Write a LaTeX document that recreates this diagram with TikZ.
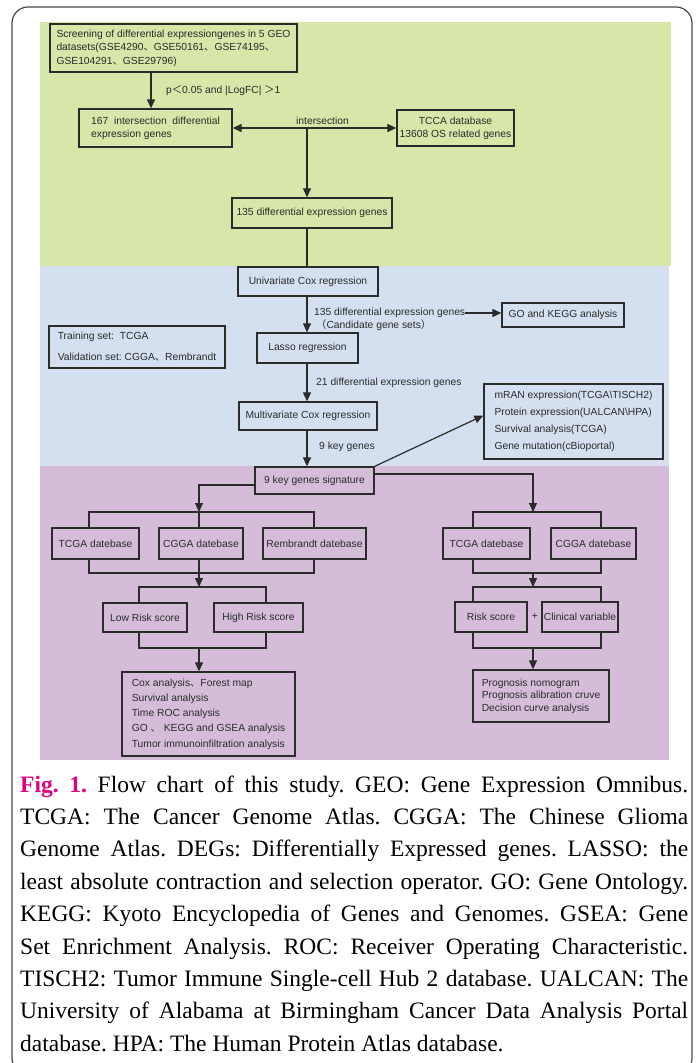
\documentclass[tikz,border=0pt]{standalone}
\usepackage{fontspec}
\setmainfont{Liberation Serif}
\newfontfamily\boxfont{Liberation Sans}
\newfontfamily\cjk{Noto Sans CJK SC}
\usetikzlibrary{arrows.meta}
\definecolor{pgreen}{HTML}{D7E6A9}
\definecolor{pblue}{HTML}{D4E0F0}
\definecolor{ppurple}{HTML}{D5BDDA}
\definecolor{figpink}{HTML}{E5007E}
\definecolor{ink}{HTML}{2B2B2B}
\definecolor{framec}{HTML}{4A4A4A}
\frenchspacing
\begin{document}
\begin{tikzpicture}[x=1pt,y=-1pt,
  bs/.style={font=\boxfont\fontsize{10.3}{#1}\selectfont},
  box/.style={draw=ink, line width=1.3pt, inner sep=0pt, text=ink, bs=13},
  lab/.style={inner sep=0pt, text=ink, bs=12},
  conn/.style={draw=ink, line width=1.2pt},
  arr/.style={conn, -{Triangle[length=9pt,width=8pt]}},
  darr/.style={conn, {Triangle[length=9pt,width=8pt]}-{Triangle[length=9pt,width=8pt]}},
  capline/.style={inner sep=0pt, anchor=base west, text=black, font=\fontsize{23.5}{28}\selectfont}
]
\useasboundingbox (0,0) rectangle (697,1063);
\fill[white] (0,0) rectangle (697,1063);
% frame
\begin{scope}
\clip (0,0) rectangle (697,1063);
\draw[framec, line width=1.2pt, rounded corners=16pt] (12,7) rectangle (692,1074);
\end{scope}
% panels
\fill[pgreen] (40,22) rectangle (671,266);
\fill[pblue] (40,266) rectangle (669,466);
\fill[ppurple] (40,466) rectangle (669,760);

% ---------- green panel ----------
\node[box, minimum width=247pt, minimum height=48pt, align=left, bs=13.5] (scr) at (173.5,48)
  {Screening of differential expressiongenes in 5 GEO\\datasets(GSE4290{\cjk 、}GSE50161{\cjk 、}GSE74195{\cjk 、}\\GSE104291{\cjk 、}GSE29796)};
\node[box, minimum width=153pt, minimum height=38pt, align=left] (b167) at (155.5,128)
  {167\ \ intersection\ \ differential\\expression genes};
\node[box, minimum width=117pt, minimum height=36pt, align=center] (tcca) at (455.5,128)
  {TCCA database\\13608 OS related genes};
\node[box, minimum width=160pt, minimum height=30pt] (b135) at (312,213) {135 differential expression genes};

\coordinate (a1) at (151,72);
\draw[arr] (a1) -- (a1 |- b167.north);
\node[lab, anchor=west] (lp) at (166,91) {p{\cjk ＜}0.05 and |LogFC| {\cjk ＞}1};
\draw[darr] (b167.east) -- (tcca.west);
\node[lab] (lint) at (322.5,121) {intersection};
\coordinate (iM) at (307,128);
\draw[arr] (iM) -- (iM |- b135.north);

% ---------- blue panel ----------
\coordinate (spine) at (307,0);
\node[box, minimum width=140pt, minimum height=29pt] (uni) at (308,281.5) {Univariate Cox regression};
\node[box, minimum width=101pt, minimum height=30pt] (lasso) at (307.5,348) {Lasso regression};
\node[box, minimum width=122pt, minimum height=24pt] (go) at (563,315) {GO and KEGG analysis};
\node[box, minimum width=176pt, minimum height=42pt, align=left, bs=21] (train) at (137,347)
  {Training set:\ \ TCGA\\Validation set: CGGA{\cjk 、}Rembrandt};
\node[box, minimum width=138pt, minimum height=28pt] (multi) at (308,416) {Multivariate Cox regression};
\node[box, minimum width=179pt, minimum height=75pt, align=left, bs=16.8] (mran) at (573.5,421.5)
  {mRAN expression(TCGA\textbackslash TISCH2)\\Protein expression(UALCAN\textbackslash HPA)\\Survival analysis(TCGA)\\Gene mutation(cBioportal)};

\draw[conn] (spine |- b135.south) -- (spine |- uni.north);
\draw[arr] (spine |- uni.south) -- (spine |- lasso.north);
\node[lab, anchor=west] (l135) at (314,313) {135 differential expression genes};
\node[lab, anchor=west] (lcand) at (316,325.5) {{\cjk （}Candidate gene sets{\cjk ）}};
\draw[arr] (l135.east) -- (l135.east -| go.west);
\draw[arr] (spine |- lasso.south) -- (spine |- multi.north);
\node[lab, anchor=west] (l21) at (316,383) {21 differential expression genes};

% ---------- purple panel ----------
\node[box, minimum width=119pt, minimum height=27pt] (sig) at (314.5,480.5) {9 key genes signature};
\draw[arr] (spine |- multi.south) -- (spine |- sig.north);
\node[lab, anchor=west] (l9) at (319,447) {9 key genes};
\draw[arr] (sig.north east) -- ([yshift=6pt]mran.west);

\node[box, minimum width=87pt, minimum height=31pt] (tcgaL) at (95.5,543.5) {TCGA datebase};
\node[box, minimum width=84pt, minimum height=31pt] (cggaL) at (201,543.5) {CGGA datebase};
\node[box, minimum width=103pt, minimum height=31pt] (remb) at (314.5,543.5) {Rembrandt datebase};
\node[box, minimum width=84pt, minimum height=29pt] (low) at (145,617.5) {Low Risk score};
\node[box, minimum width=89pt, minimum height=29pt] (high) at (258.5,617.5) {High Risk score};
\node[box, minimum width=173pt, minimum height=84pt, align=left, bs=15.2] (cox) at (208.5,714)
  {Cox analysis{\cjk 、}Forest map\\Survival analysis\\Time ROC analysis\\GO {\cjk 、} KEGG and GSEA analysis\\Tumor immunoinfiltration analysis};

\node[box, minimum width=87pt, minimum height=31pt] (tcgaR) at (486.5,543.5) {TCGA datebase};
\node[box, minimum width=85pt, minimum height=31pt] (cggaR) at (593.5,543.5) {CGGA datebase};
\node[box, minimum width=72pt, minimum height=30pt] (risk) at (491,617) {Risk score};
\node[box, minimum width=76pt, minimum height=30pt] (clin) at (580,617) {Clinical variable};
\node[lab] (plus) at (535,617) {+};
\node[box, minimum width=136pt, minimum height=52pt, align=left, bs=12.6] (prog) at (541,696)
  {Prognosis nomogram\\Prognosis alibration cruve\\Decision curve analysis};

% left branch
\coordinate (jL) at (199,512);
\coordinate (kL) at (199,573);
\coordinate (mL) at (199,587);
\coordinate (nL) at (199,648);
\coordinate (xL1) at (89,0);
\coordinate (xL3) at (314,0);
\coordinate (xL4) at (139,0);
\coordinate (xL5) at (266,0);
\draw[arr] ([yshift=-4.5pt]sig.west) -| (jL);
\draw[conn] (xL1 |- tcgaL.north) -- (xL1 |- jL) -- (xL3 |- jL) -- (xL3 |- remb.north);
\draw[conn] (jL) -- (jL |- cggaL.north);
\draw[conn] (xL1 |- tcgaL.south) -- (xL1 |- kL) -- (xL3 |- kL) -- (xL3 |- remb.south);
\draw[conn] (kL |- cggaL.south) -- (kL);
\draw[arr] (kL) -- (mL);
\draw[conn] (xL4 |- low.north) -- (xL4 |- mL) -- (xL5 |- mL) -- (xL5 |- high.north);
\draw[conn] (xL4 |- low.south) -- (xL4 |- nL) -- (xL5 |- nL) -- (xL5 |- high.south);
\draw[arr] (nL) -- (nL |- cox.north);

% right branch
\coordinate (jR) at (533,512);
\coordinate (kR) at (533,573);
\coordinate (mR) at (533,587);
\coordinate (nR) at (533,648);
\coordinate (xR1) at (473,0);
\coordinate (xR2) at (601,0);
\draw[arr] ([yshift=6.5pt]sig.east) -| (jR);
\draw[conn] (xR1 |- tcgaR.north) -- (xR1 |- jR) -- (xR2 |- jR) -- (xR2 |- cggaR.north);
\draw[conn] (xR1 |- tcgaR.south) -- (xR1 |- kR) -- (xR2 |- kR) -- (xR2 |- cggaR.south);
\draw[arr] (kR) -- (mR);
\draw[conn] (xR1 |- risk.north) -- (xR1 |- mR) -- (xR2 |- mR) -- (xR2 |- clin.north);
\draw[conn] (xR1 |- risk.south) -- (xR1 |- nR) -- (xR2 |- nR) -- (xR2 |- clin.south);
\draw[arr] (nR) -- (nR |- prog.north);

% ---------- caption ----------
\node[capline] (cap1) at (20,792) {\makebox[668pt][s]{{\color{figpink}\bfseries Fig. 1.} Flow chart of this study. GEO: Gene Expression Omnibus.}};
\node[capline] (cap2) at (20,824.4) {\makebox[668pt][s]{TCGA: The Cancer Genome Atlas. CGGA: The Chinese Glioma}};
\node[capline] (cap3) at (20,856.8) {\makebox[668pt][s]{Genome Atlas. DEGs: Differentially Expressed genes. LASSO: the}};
\node[capline] (cap4) at (20,889.2) {\makebox[668pt][s]{least absolute contraction and selection operator. GO: Gene Ontology.}};
\node[capline] (cap5) at (20,921.6) {\makebox[668pt][s]{KEGG: Kyoto Encyclopedia of Genes and Genomes. GSEA: Gene}};
\node[capline] (cap6) at (20,954) {\makebox[668pt][s]{Set Enrichment Analysis. ROC: Receiver Operating Characteristic.}};
\node[capline] (cap7) at (20,986.4) {\makebox[668pt][s]{TISCH2: Tumor Immune Single-cell Hub 2 database. UALCAN: The}};
\node[capline] (cap8) at (20,1018.8) {\makebox[668pt][s]{University of Alabama at Birmingham Cancer Data Analysis Portal}};
\node[capline] (cap9) at (20,1051.2) {database. HPA: The Human Protein Atlas database.};
\end{tikzpicture}
\end{document}
